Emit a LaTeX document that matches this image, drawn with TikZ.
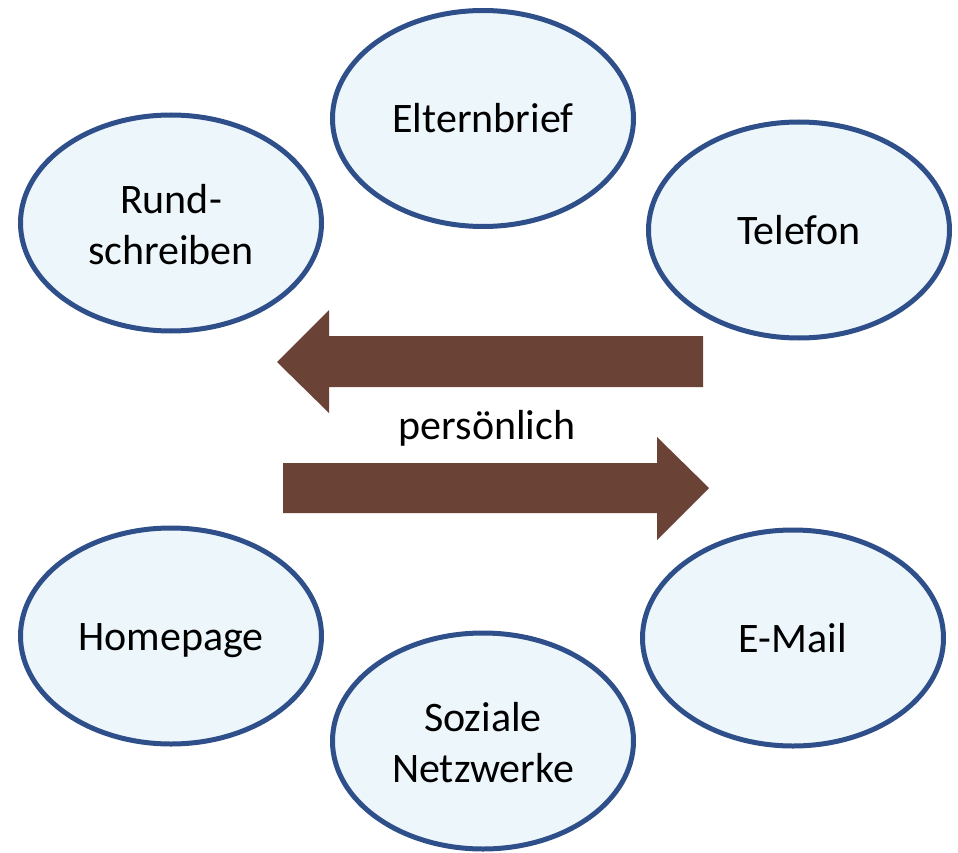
\documentclass[tikz,border=0pt]{standalone}
\usepackage{fontspec}
\setmainfont{Carlito}
\usetikzlibrary{shapes.geometric}
\definecolor{ellfill}{HTML}{EDF6FA}
\definecolor{elldraw}{HTML}{2F4F8A}
\definecolor{arrbrown}{HTML}{6B4236}
\begin{document}
\begin{tikzpicture}[x=1pt,y=-1pt,
  bubble/.style={ellipse, draw=elldraw, fill=ellfill, line width=5pt,
    minimum width=301pt, minimum height=216pt, inner sep=0pt,
    text height=35pt, text depth=6pt,
    align=center, font=\fontsize{42}{51}\selectfont, text=black},
  twoline/.style={text height=88pt, text depth=6pt},
  fatarrow/.style={fill=arrbrown}]
\useasboundingbox (0,0) rectangle (958,853);
\node[bubble] (eltern) at (483,118.5) {Elternbrief};
\node[bubble, twoline] (rund) at (171,223) {Rund-\\schreiben};
\node[bubble] (telefon) at (799,230) {Telefon};
\node[bubble] (home) at (171,636) {Homepage};
\node[bubble] (email) at (793,638) {E-Mail};
\node[bubble, twoline] (sozial) at (483,741) {Soziale\\Netzwerke};
\fill[fatarrow] (703,336) -- (329,336) -- (329,310) -- (277,362) -- (329,413) -- (329,387) -- (703,387) -- cycle;
\fill[fatarrow] (283,463) -- (657,463) -- (657,437) -- (709,488) -- (657,540) -- (657,513) -- (283,513) -- cycle;
\node[font=\fontsize{42}{51}\selectfont, anchor=base] (pers) at (487,439) {persönlich};
\end{tikzpicture}
\end{document}
